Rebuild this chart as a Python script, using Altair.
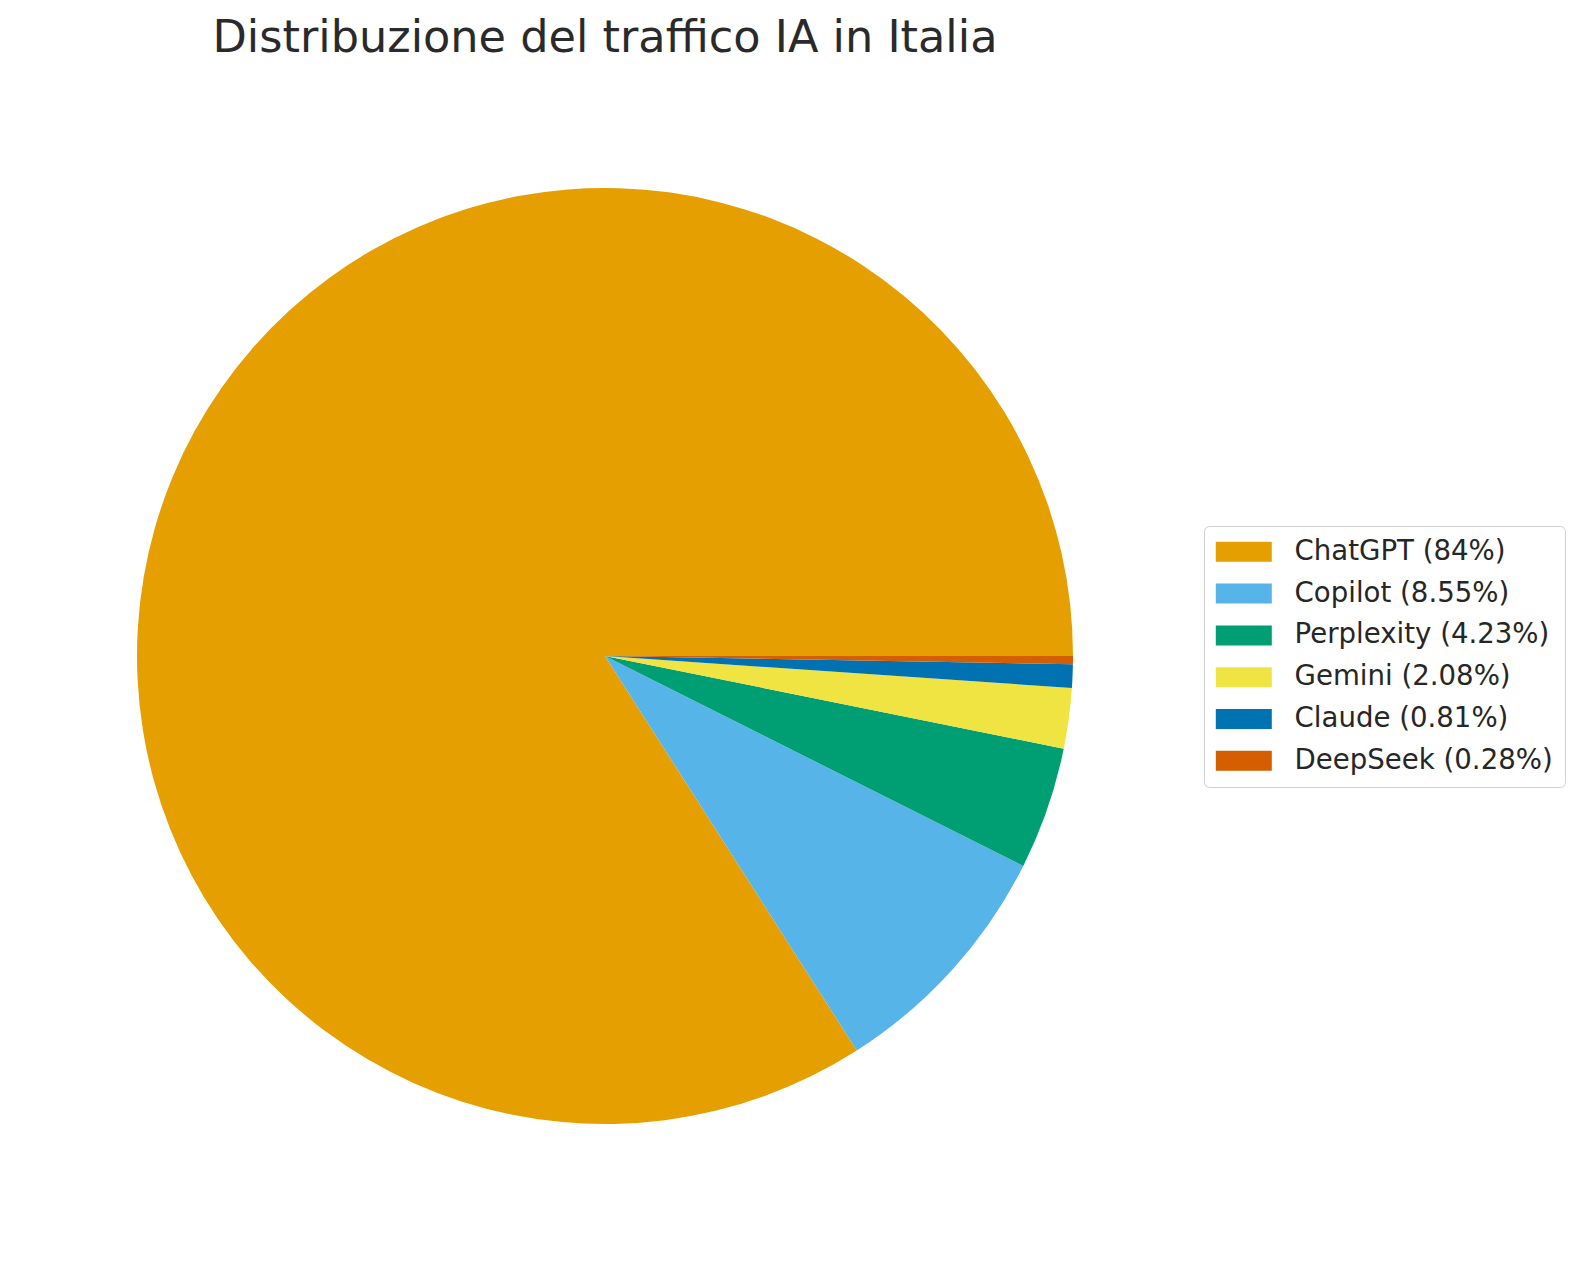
import math
import altair as alt
import pandas as pd

names = ["ChatGPT", "Copilot", "Perplexity", "Gemini", "Claude", "DeepSeek"]
shares = [84, 8.55, 4.23, 2.08, 0.81, 0.28]
colors = ["#E69F00", "#56B4E9", "#009E73", "#F0E442", "#0072B2", "#D55E00"]
title_text = "Distribuzione del traffico IA in Italia"

labels = [f"{n} ({v:g}%)" for n, v in zip(names, shares)]
df = pd.DataFrame({"label": labels, "share": shares, "idx": list(range(len(names)))})

W = 1194
H = 1150

chart = alt.Chart(df).mark_arc(radius=468, strokeWidth=0).encode(
    theta=alt.Theta("share:Q", stack=True,
                    scale=alt.Scale(range=[math.pi / 2 + 2 * math.pi, math.pi / 2])),
    order=alt.Order("idx:Q", sort="ascending"),
    color=alt.Color(
        "label:N",
        scale=alt.Scale(domain=labels, range=colors),
        legend=alt.Legend(
            title=None, orient="none", legendX=1196, legendY=460,
            labelFont="DejaVu Sans", labelFontSize=27.6, labelColor="#262626",
            symbolType="M-1.4,-1L4.2,-1L4.2,1L-1.4,1Z", symbolSize=400,
            symbolStrokeWidth=0, labelOffset=51, rowPadding=12.8, padding=12,
            strokeColor="#d0d0d0", fillColor="white", cornerRadius=5,
            labelLimit=0,
        ),
    ),
    x=alt.value(597),
    y=alt.value(590),
).properties(
    width=W, height=H,
    padding={"top": 8, "left": 0, "right": 0, "bottom": 0},
    title=alt.TitleParams(text=title_text, fontSize=44.6, font="DejaVu Sans",
                          fontWeight="normal", color="#2a2a2a", anchor="middle"),
).configure_view(stroke=None)

chart.save("out.html", embed_options={"renderer": "svg", "actions": False})
